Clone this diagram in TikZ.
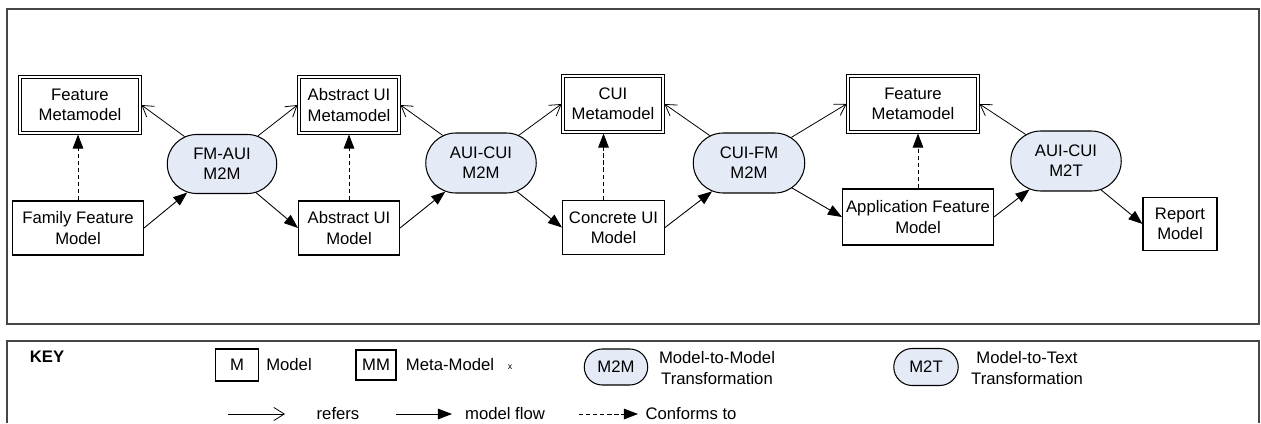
\documentclass[tikz,border=0pt]{standalone}
\usepackage{fontspec}
\setmainfont{Liberation Sans}
\usetikzlibrary{arrows.meta,shapes.misc}
\definecolor{transfill}{RGB}{229,235,246}
\definecolor{framegray}{RGB}{70,70,70}

\begin{document}
\begin{tikzpicture}[x=0.02cm,y=-0.02cm,
  font=\fontsize{9.5}{11.5}\selectfont,
  frame/.style={draw=framegray,line width=0.8pt},
  model/.style={draw,line width=0.6pt,align=center,inner sep=1pt},
  metamodel/.style={draw,line width=0.5pt,align=center,inner sep=1pt,outer sep=0.06cm},
  trans/.style={draw,fill=transfill,rounded rectangle,line width=0.6pt,align=center,inner sep=1pt},
  refers/.style={-{Straight Barb[length=6pt,width=7.5pt]},line width=0.45pt},
  flow/.style={-{Triangle[length=8pt,width=6pt]},line width=0.5pt},
  conforms/.style={-{Triangle[length=8pt,width=6pt]},line width=0.5pt,dash pattern=on 2.5pt off 1.5pt}]

\useasboundingbox (0,0) rectangle (1261,423);

% frames
\draw[frame] (7,9) rectangle (1259,324);
\draw[frame] (7,423) |- (1259,341) -- (1259,423);

% metamodels
\node[metamodel,minimum width=2.34cm,minimum height=1.06cm] (fmm1) at (80,105) {Feature\\Metamodel};
\node[metamodel,minimum width=1.94cm,minimum height=1.06cm] (aum) at (349,105) {Abstract UI\\Metamodel};
\node[metamodel,minimum width=1.94cm,minimum height=1.06cm] (cuim) at (613,104) {CUI\\Metamodel};
\node[metamodel,minimum width=2.54cm,minimum height=1.06cm] (fmm2) at (913,104) {Feature\\Metamodel};
% outer line of the metamodel boxes
\foreach \mm in {fmm1,aum,cuim,fmm2}
  \draw[line width=0.5pt] (\mm.south west) rectangle (\mm.north east);

% models
\node[model,minimum width=2.62cm,minimum height=1.08cm] (ffm) at (78,228) {Family Feature\\Model};
\node[model,minimum width=2.02cm,minimum height=1.08cm] (aumod) at (349,228) {Abstract UI\\Model};
\node[model,minimum width=2.04cm,minimum height=1.08cm] (cuimod) at (613.5,227.5) {Concrete UI\\Model};
\node[model,minimum width=3.02cm,minimum height=1.12cm] (afm) at (918,217) {Application Feature\\Model};
\node[model,minimum width=1.48cm,minimum height=1.06cm] (rep) at (1180,224) {Report\\Model};

% transformations
\node[trans,minimum width=2.26cm,minimum height=1.18cm] (t1) at (222,164) {FM-AUI\\M2M};
\node[trans,minimum width=2.28cm,minimum height=1.20cm] (t2) at (481,163) {AUI-CUI\\M2M};
\node[trans,minimum width=2.30cm,minimum height=1.20cm] (t3) at (749,163) {CUI-FM\\M2M};
\node[trans,minimum width=2.28cm,minimum height=1.20cm] (t4) at (1066,161) {AUI-CUI\\M2T};

% connectors
\draw[flow] (ffm.east) -- (t1);
\draw[refers] (t1) -- (fmm1.east);
\draw[refers] (t1) -- (aum.west);
\draw[flow] (t1) -- (aumod.west);
\draw[conforms] (ffm.north) -- (ffm.north |- fmm1.south);

\draw[flow] (aumod.east) -- (t2);
\draw[refers] (t2) -- (aum.east);
\draw[refers] (t2) -- (cuim.west);
\draw[flow] (t2) -- (cuimod.west);
\draw[conforms] (aumod.north) -- (aumod.north |- aum.south);

\draw[flow] (cuimod.east) -- (t3);
\draw[refers] (t3) -- (cuim.east);
\draw[refers] (t3) -- (fmm2.west);
\draw[flow] (t3) -- (afm.west);
\draw[conforms] ([xshift=-0.2cm]cuimod.north) -- ([xshift=-0.2cm]cuimod.north |- cuim.south);

\draw[flow] (afm.east) -- (t4);
\draw[refers] (t4) -- (fmm2.east);
\draw[flow] (t4) -- (rep.west);
\draw[conforms] (afm.north) -- (afm.north |- fmm2.south);

% key
\node[font=\fontsize{9.5}{11.5}\selectfont\bfseries] (key) at (47,357) {KEY};
\node[model,minimum width=0.86cm,minimum height=0.64cm] (keym) at (237,365) {M};
\node (keymlab) at (289,365) {Model};
\node[draw,line width=1.3pt,minimum width=0.80cm,minimum height=0.60cm,inner sep=1pt] (keymm) at (376,365) {MM};
\node (keymmlab) at (450,365) {Meta-Model};
\node[font=\tiny] (keyx) at (510,367) {x};
\node[trans,minimum width=1.34cm,minimum height=0.72cm] (keym2m) at (616,367) {M2M};
\node[align=center] (keym2mlab) at (717,368) {Model-to-Model\\Transformation};
\node[trans,minimum width=1.36cm,minimum height=0.74cm] (keym2t) at (926,367) {M2T};
\node[align=center] (keym2tlab) at (1027,368) {Model-to-Text\\Transformation};

\coordinate (ref0) at (228,414);
\coordinate (ref1) at (285,414);
\coordinate (flo0) at (396,414);
\coordinate (flo1) at (452,414);
\coordinate (con0) at (579,414);
\coordinate (con1) at (638,414);
\draw[refers] (ref0) -- (ref1);
\draw[flow] (flo0) -- (flo1);
\draw[conforms] (con0) -- (con1);
\node (referslab) at (338,414) {refers};
\node (flowlab) at (505,414) {model flow};
\node (conflab) at (691,414) {Conforms to};
\end{tikzpicture}
\end{document}
